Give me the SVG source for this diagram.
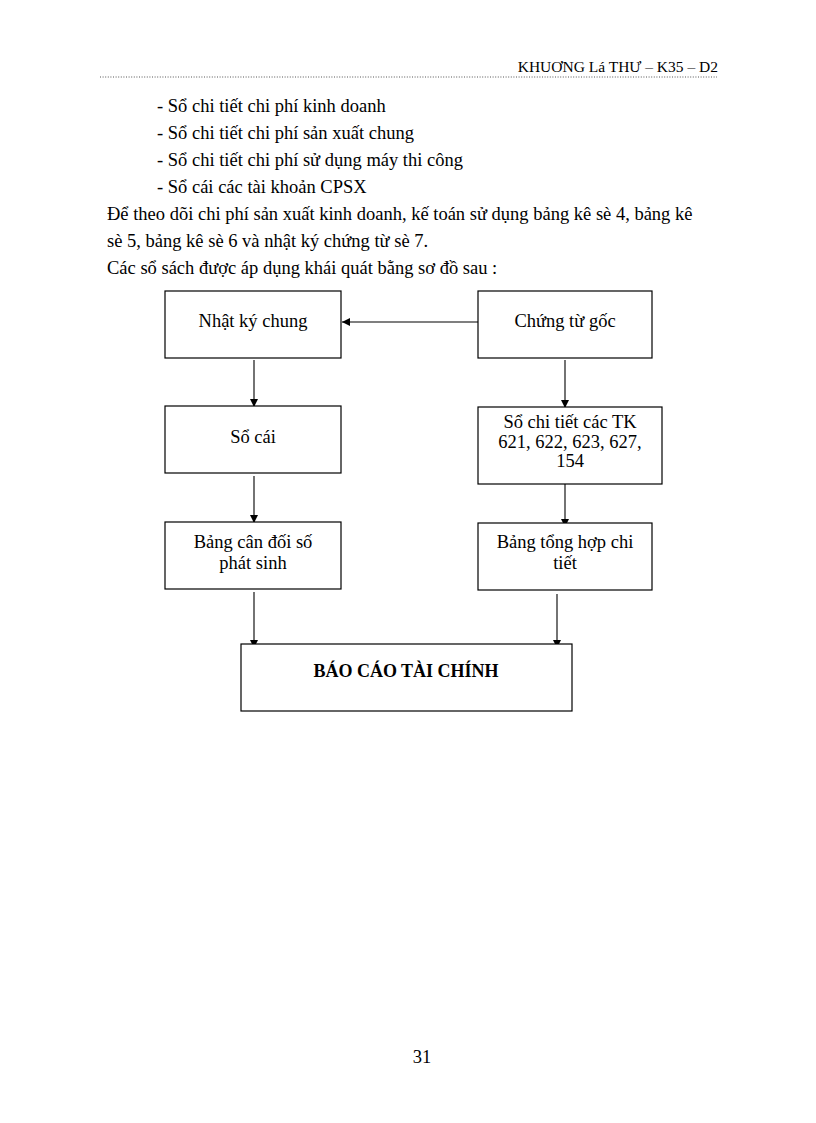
<svg xmlns="http://www.w3.org/2000/svg" width="816" height="1123" viewBox="0 0 816 1123">
<defs>
<style>
.page{font-family:"Liberation Serif","Times New Roman",serif;font-size:18.5px;fill:#000}
.hdr{font-family:"Liberation Serif","Times New Roman",serif;font-size:15.5px;fill:#000}
.box rect{fill:#fff;stroke:#000;stroke-width:1.2}
.box text{font-family:"Liberation Serif","Times New Roman",serif;font-size:18.5px;fill:#000;text-anchor:middle}
.box text.title{font-size:18px;font-weight:bold}
.conn line{stroke:#000;stroke-width:1.1;fill:none}
</style>
<marker id="arr" viewBox="0 0 10 10" refX="10" refY="5" markerWidth="8" markerHeight="8" markerUnits="userSpaceOnUse" orient="auto">
<path d="M0,0 L10,5 L0,10 z" fill="#000"/>
</marker>
</defs>
<rect x="0" y="0" width="816" height="1123" fill="#fff"/>

<g id="header">
<text class="hdr" x="718" y="72" text-anchor="end">KHUƠNG  Lá THƯ – K35 – D2</text>
<line x1="100" y1="77" x2="717" y2="77" stroke="#555" stroke-width="1" stroke-dasharray="1 1.6"/>
</g>

<g id="body-text" class="page">
<text x="157" y="112">- Sổ chi tiết chi phí kinh  doanh</text>
<text x="157" y="139">- Sổ chi tiết chi phí sản xuất  chung</text>
<text x="157" y="166">- Sổ chi tiết chi phí sử dụng máy thi công</text>
<text x="157" y="193">- Sổ cái các tài khoản CPSX</text>
<text x="107" y="220">Để theo dõi chi phí sản xuất kinh  doanh, kế toán sử dụng bảng kê sè 4, bảng kê</text>
<text x="107" y="247">sè 5, bảng kê sè 6 và nhật ký chứng từ sè 7.</text>
<text x="107" y="274">Các sổ sách được áp dụng khái  quát bằng sơ đồ sau :</text>
</g>

<g id="connectors" class="conn">
<line x1="478" y1="322" x2="342" y2="322" marker-end="url(#arr)"/>
<line x1="254" y1="360" x2="254" y2="407" marker-end="url(#arr)"/>
<line x1="254" y1="476" x2="254" y2="523" marker-end="url(#arr)"/>
<line x1="254" y1="592" x2="254" y2="648" marker-end="url(#arr)"/>
<line x1="565" y1="360" x2="565" y2="408" marker-end="url(#arr)"/>
<line x1="565" y1="484" x2="565" y2="527" marker-end="url(#arr)"/>
<line x1="557" y1="594" x2="557" y2="648" marker-end="url(#arr)"/>
</g>

<g id="nhat-ky-chung" class="box">
<rect x="165" y="291" width="176" height="67"/>
<text x="253" y="327">Nhật ký chung</text>
</g>
<g id="chung-tu-goc" class="box">
<rect x="478" y="291" width="174" height="67"/>
<text x="565" y="327">Chứng từ gốc</text>
</g>
<g id="so-cai" class="box">
<rect x="165" y="406" width="176" height="67"/>
<text x="253" y="443">Sổ cái</text>
</g>
<g id="so-chi-tiet" class="box">
<rect x="478" y="407" width="184" height="77"/>
<text x="570" y="428">Sổ chi tiết các TK</text>
<text x="570" y="448">621, 622, 623, 627,</text>
<text x="570" y="467">154</text>
</g>
<g id="bang-can-doi" class="box">
<rect x="165" y="522" width="176" height="67"/>
<text x="253" y="548">Bảng cân đối số</text>
<text x="253" y="569">phát sinh</text>
</g>
<g id="bang-tong-hop" class="box">
<rect x="478" y="523" width="174" height="67"/>
<text x="565" y="548">Bảng tổng hợp chi</text>
<text x="565" y="569">tiết</text>
</g>
<g id="bao-cao-tai-chinh" class="box">
<rect x="241" y="644" width="331" height="67"/>
<text class="title" x="406" y="677">BÁO CÁO TÀI CHÍNH</text>
</g>

<g id="page-number">
<text class="page" x="422" y="1063" text-anchor="middle" font-size="16">31</text>
</g>
</svg>
